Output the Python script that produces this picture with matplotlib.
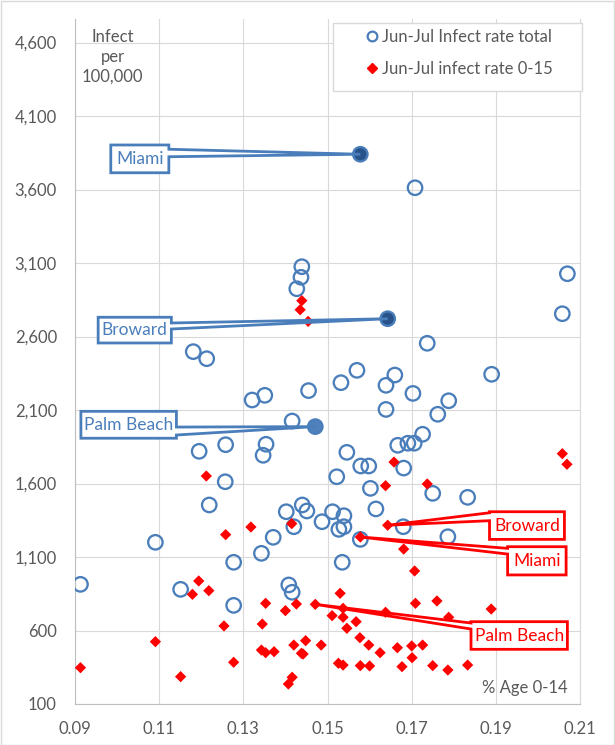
import matplotlib.pyplot as plt
from matplotlib.patches import Polygon, Rectangle
from matplotlib.lines import Line2D
from matplotlib.ticker import FuncFormatter

plt.rcParams['font.family'] = ['Lato', 'DejaVu Sans']

# counties as open circles: share of age 0-14, Jun-Jul infections per 100,000 (all ages)
total_x = [0.1708, 0.1439, 0.1437, 0.1427, 0.2070, 0.2058, 0.1181, 0.1213, 0.1737, 0.1890,
           0.1570, 0.1532, 0.1455, 0.1660, 0.1639, 0.1703, 0.1788, 0.1321, 0.1351, 0.1639,
           0.1762, 0.1416, 0.1726, 0.1706, 0.1691, 0.1667, 0.1546, 0.1195, 0.1258, 0.1354,
           0.1347, 0.1681, 0.1579, 0.1598, 0.1522, 0.1257, 0.1602, 0.1750, 0.1833, 0.1615,
           0.1219, 0.1402, 0.1440, 0.1451, 0.1420, 0.1487, 0.1512, 0.1539, 0.1527, 0.1539,
           0.1680, 0.1786, 0.1578, 0.1371, 0.1091, 0.1343, 0.1535, 0.1277, 0.0913, 0.1151,
           0.1408, 0.1416, 0.1277]
total_y = [3612, 3075, 3003, 2925, 3027, 2755, 2497, 2449, 2554, 2343,
           2370, 2286, 2232, 2338, 2268, 2213, 2163, 2168, 2200, 2104,
           2071, 2025, 1935, 1874, 1874, 1860, 1812, 1819, 1864, 1867,
           1792, 1705, 1719, 1719, 1646, 1612, 1567, 1533, 1506, 1427,
           1454, 1408, 1454, 1413, 1306, 1340, 1408, 1381, 1288, 1306,
           1306, 1238, 1220, 1234, 1200, 1125, 1064, 1064, 914, 880,
           910, 860, 771]

# same counties, Jun-Jul infections per 100,000 for ages 0-15
kids_x = [0.1439, 0.1435, 0.1454, 0.2058, 0.2069, 0.1658, 0.1212, 0.1638, 0.1737, 0.1415,
          0.1318, 0.1258, 0.1681, 0.1707, 0.1530, 0.1537, 0.1511, 0.1537, 0.1568, 0.1546,
          0.1638, 0.1709, 0.1760, 0.1788, 0.1889, 0.1577, 0.1598, 0.1625, 0.1666, 0.1700,
          0.1726, 0.1701, 0.1526, 0.1537, 0.1578, 0.1600, 0.1677, 0.1750, 0.1786, 0.1833,
          0.1448, 0.1485, 0.1438, 0.1194, 0.1179, 0.1218, 0.1353, 0.1400, 0.1426, 0.1254,
          0.1345, 0.1091, 0.1420, 0.1343, 0.1353, 0.1373, 0.1442, 0.1277, 0.0913, 0.1151,
          0.1416, 0.1407]
kids_y = [2844, 2782, 2703, 1803, 1731, 1746, 1651, 1585, 1597, 1327,
          1304, 1252, 1154, 1005, 853, 751, 701, 690, 660, 615,
          724, 785, 801, 690, 746, 551, 501, 449, 483, 495,
          501, 415, 377, 365, 361, 359, 354, 361, 331, 365,
          531, 501, 445, 937, 846, 871, 785, 735, 780, 631,
          644, 524, 501, 467, 449, 456, 440, 384, 347, 286,
          282, 236]

# labelled counties
names = ['Miami', 'Broward', 'Palm Beach']
named_x = [0.1578, 0.1643, 0.1471]
named_total = [3840, 2721, 1987]
named_kids = [1236, 1316, 778]

blue = '#4a7ebb'
red = '#ff0000'
grey = '#595959'

fig = plt.figure(figsize=(6.15, 7.45), dpi=100)
ax = fig.add_axes([75 / 615, 1 - 704 / 745, 505 / 615, 684.7 / 745])

ax.scatter(total_x, total_y, s=108, facecolors='none', edgecolors=blue, linewidths=1.65, zorder=3)
ax.scatter(named_x, named_total, s=108, facecolors=['#27528a', '#27528a', '#4f81bd'],
           edgecolors=blue, linewidths=1.65, zorder=3)
ax.scatter(kids_x + named_x, kids_y + named_kids, s=33, marker='D', color=red,
           edgecolors='none', zorder=4)

ax.set_xlim(0.09, 0.21)
ax.set_ylim(100, 4758)
ax.set_xticks([0.09, 0.11, 0.13, 0.15, 0.17, 0.19, 0.21])
ax.set_yticks(range(100, 4601, 500))
ax.xaxis.set_major_formatter(FuncFormatter(lambda v, p: f'{v:.2f}'))
ax.yaxis.set_major_formatter(FuncFormatter(lambda v, p: f'{v:,.0f}'))
ax.tick_params(length=0, labelsize=12, colors=grey)
ax.tick_params(axis='y', pad=13)
ax.tick_params(axis='x', pad=12)
ax.grid(True, color='#d9d9d9', linewidth=0.8)
ax.set_axisbelow(True)
ax.spines['top'].set_visible(False)
ax.spines['right'].set_color('#d9d9d9')
ax.spines['left'].set_color('#bfbfbf')
ax.spines['bottom'].set_color('#bfbfbf')

ax.text(0.0747, 0.945, 'Infect\nper\n100,000', transform=ax.transAxes, ha='center', va='center',
        fontsize=12, color=grey, linespacing=1.3)
ax.text(0.975, 0.012, '% Age 0-14', transform=ax.transAxes, ha='right', va='bottom',
        fontsize=12, color=grey)


def callout(name, tip, box, base, side, color):
    x0, x1, y0, y1 = box
    b0, b1 = base
    if side == 'right':
        pts = [(x0, y0), (x1, y0), (x1, b1), tip, (x1, b0), (x1, y1), (x0, y1)]
    else:
        pts = [(x0, y0), (x1, y0), (x1, y1), (x0, y1), (x0, b0), tip, (x0, b1)]
    ax.add_patch(Polygon(pts, closed=True, facecolor='white', edgecolor=color,
                         linewidth=2.0, joinstyle='miter', zorder=5, clip_on=False))
    ax.text((x0 + x1) / 2, (y0 + y1) / 2, name, ha='center', va='center',
            fontsize=12.5, color=color, zorder=6)


callout('Miami', (named_x[0], named_total[0]), (0.0985, 0.1123, 3714, 3903), (3874, 3823), 'right', blue)
callout('Broward', (named_x[1], named_total[1]), (0.0955, 0.1129, 2556, 2731), (2692, 2651), 'right', blue)
callout('Palm Beach', (named_x[2], named_total[2]), (0.0914, 0.1141, 1908, 2091), (1984, 1930), 'right', blue)
callout('Broward', (named_x[1], named_kids[1]), (0.1885, 0.2063, 1220, 1408), (1401, 1347), 'left', red)
callout('Miami', (named_x[0], named_kids[0]), (0.1928, 0.2067, 978, 1170), (1159, 1120), 'left', red)
callout('Palm Beach', (named_x[2], named_kids[2]), (0.1841, 0.2070, 472, 660), (651, 610), 'left', red)

handles = [Line2D([], [], marker='o', linestyle='none', markerfacecolor='none',
                  markeredgecolor=blue, markeredgewidth=1.6, markersize=7),
           Line2D([], [], marker='D', linestyle='none', color=red, markersize=5)]
fig.legend(handles, ['Jun-Jul Infect rate total', 'Jun-Jul infect rate 0-15'],
           loc='upper left', bbox_to_anchor=(366 / 615, 1 - 29 / 745), frameon=False,
           fontsize=12, labelcolor=grey, borderpad=0, borderaxespad=0,
           handlelength=0.73, handletextpad=0.2, labelspacing=0.95)
fig.patches.append(Rectangle((333 / 615, 1 - 91 / 745), 249 / 615, 68 / 745,
                             transform=fig.transFigure, facecolor='white',
                             edgecolor='#d9d9d9', linewidth=1, zorder=1))
fig.patches.append(Rectangle((0.5 / 615, 0.5 / 745), 613.5 / 615, 743.5 / 745,
                             transform=fig.transFigure, facecolor='none',
                             edgecolor='#d9d9d9', linewidth=1))

fig.savefig('out.png', dpi=100)
